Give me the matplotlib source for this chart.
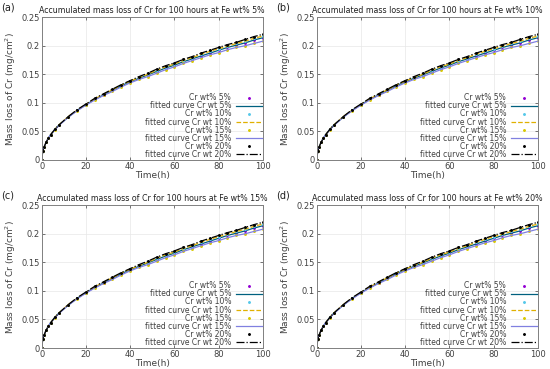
import numpy as np
import matplotlib.pyplot as plt

# time in hours
time_h = [0, 0.5, 1, 2, 3, 4, 6, 8, 12, 16, 20, 24, 28, 32, 36, 40, 44, 48, 52, 56,
          60, 64, 68, 72, 76, 80, 84, 88, 92, 96, 100]

# mass loss of Cr (mg/cm^2)
cr5 = [0, .016, .022, .031, .038, .044, .054, .062, .075, .087, .097, .106, .114, .122, .130,
       .137, .143, .149, .155, .161, .166, .172, .177, .182, .187, .192, .197, .201, .205, .210, .214]
cr10 = [0, .016, .022, .031, .038, .044, .054, .062, .076, .087, .097, .107, .115, .123, .131,
        .138, .144, .150, .157, .163, .168, .174, .179, .185, .190, .195, .199, .204, .208, .213, .217]
cr15 = [0, .016, .022, .031, .038, .044, .053, .061, .075, .086, .096, .105, .113, .120, .128,
        .135, .141, .146, .152, .158, .163, .169, .174, .179, .184, .188, .193, .197, .200, .204, .208]
cr20 = [0, .016, .022, .031, .038, .044, .054, .062, .076, .088, .098, .108, .116, .124, .132,
        .139, .146, .152, .159, .165, .170, .176, .181, .187, .192, .197, .202, .206, .211, .216, .220]

fe_levels = ["5%", "10%", "15%", "20%"]
panel_tags = ["(a)", "(b)", "(c)", "(d)"]
y_ticks = [0, 0.05, 0.1, 0.15, 0.2, 0.25]
y_ticklabels = ["0", "0.05", "0.1", "0.15", "0.2", "0.25"]

series = [
    ("5%", cr5, "#9400d3", "#00607f", "-"),
    ("10%", cr10, "#56c8e9", "#e0b000", "--"),
    ("15%", cr15, "#d8c800", "#8080e0", "-"),
    ("20%", cr20, "black", "black", "-."),
]

plt.rcParams['font.family'] = 'DejaVu Sans'
txt = '#404040'

fig = plt.figure(figsize=(5.5, 3.69), dpi=100)
lefts = [0.0758, 0.5758]
bottoms = [0.5664, 0.0569]
W, H = 0.402, 0.387

for i in range(4):
    r, c = divmod(i, 2)
    ax = fig.add_axes([lefts[c], bottoms[r], W, H])
    for lab, vals, dcol, fcol, ls in series:
        ax.plot(time_h, vals, linestyle='none', marker='.', markersize=2.2,
                color=dcol, label="Cr wt% " + lab)
        ax.plot(time_h, vals, linestyle=ls, linewidth=0.9, color=fcol,
                label="fitted curve Cr wt " + lab)
    ax.set_xlim(0, 100)
    ax.set_ylim(0, 0.25)
    ax.set_yticks(y_ticks)
    ax.set_yticklabels(y_ticklabels)
    ax.set_xticks([0, 20, 40, 60, 80, 100])
    ax.grid(True, color='#e8e8e8', linewidth=0.5)
    ax.tick_params(direction='in', length=2.5, width=0.5, labelsize=6,
                   colors=txt, top=True, right=True, pad=1.5)
    for s in ax.spines.values():
        s.set_color('#808080')
        s.set_linewidth(0.7)
    ax.set_xlabel("Time(h)", fontsize=6.5, color=txt, labelpad=0)
    ax.set_ylabel("Mass loss of Cr (mg/cm$^2$)", fontsize=6.5, color=txt, labelpad=2)
    ax.set_title("Accumulated mass loss of Cr for 100 hours at Fe wt% " + fe_levels[i],
                 fontsize=5.7, color='#202020', pad=3)
    fig.text(lefts[c] - 0.073, bottoms[r] + H + 0.018, panel_tags[i], fontsize=7, color='#202020')
    ax.legend(loc='lower right', fontsize=5.5, frameon=False, markerfirst=False,
              labelspacing=-0.12, handlelength=3.4, handletextpad=0.6,
              borderaxespad=0.0, borderpad=0.15, labelcolor=txt)

fig.savefig("out.png", dpi=100)
